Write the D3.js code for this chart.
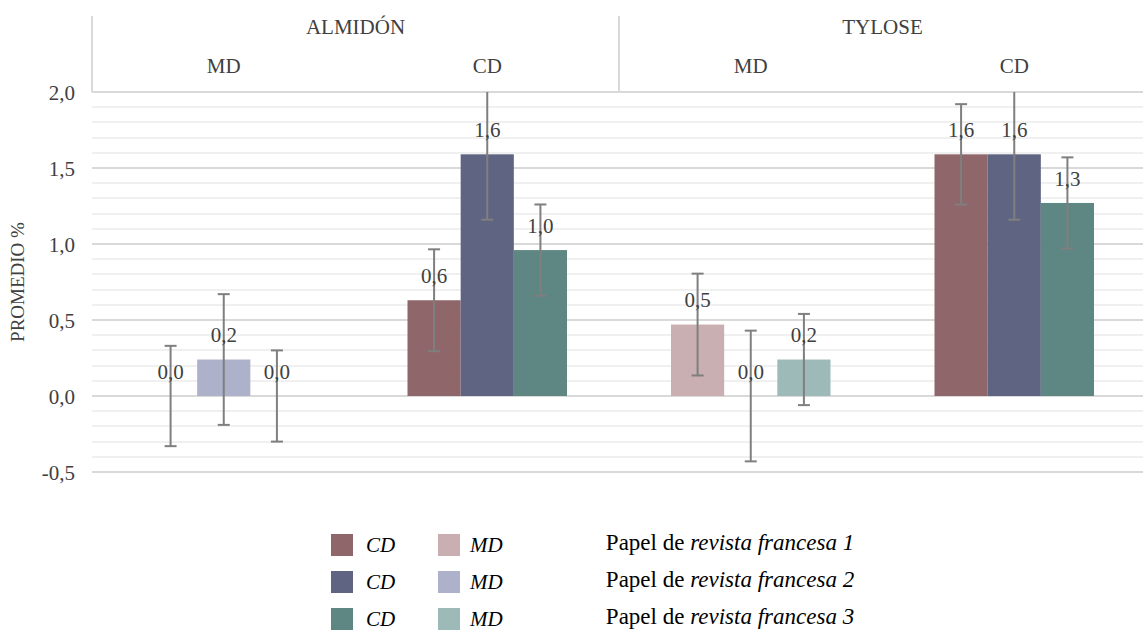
<!DOCTYPE html>
<html>
<head>
<meta charset="utf-8">
<title>Promedio %</title>
<script src="https://cdn.jsdelivr.net/npm/d3@7"></script>
<style>
  body { margin: 0; background: #fff; }
  svg, svg text, svg tspan { font-family: "Liberation Serif", "Times New Roman", serif !important; }
</style>
</head>
<body>
<div id="chart"></div>
<script>
// data
var materials = ["ALMIDÓN", "TYLOSE"];
var treatments = ["MD", "CD"];
var series = ["Papel de revista francesa 1", "Papel de revista francesa 2", "Papel de revista francesa 3"];
// values per group (ALMIDÓN MD, ALMIDÓN CD, TYLOSE MD, TYLOSE CD), one entry per series
var means = [
  [0.00, 0.24, 0.00],
  [0.63, 1.59, 0.96],
  [0.47, 0.00, 0.24],
  [1.59, 1.59, 1.27]
];
var errs = [
  [0.33, 0.43, 0.30],
  [0.335, 0.43, 0.30],
  [0.335, 0.43, 0.30],
  [0.33, 0.43, 0.30]
];
var yTicks = [-0.5, 0, 0.5, 1.0, 1.5, 2.0];

var colorsCD = ["#8f666a", "#606483", "#5e8682"];
var colorsMD = ["#c9afb1", "#adb1ca", "#9dbab8"];

var width = 1143, height = 632;
var pLeft = 92, pRight = 1146, pTop = 92, pBottom = 472;
var fs = 21;
var serifFont = "Liberation Serif";

var svg = d3.select("#chart").append("svg")
    .attr("width", width)
    .attr("height", height)
    .attr("font-family", serifFont);

var groups = [];
materials.forEach(function(m) {
  treatments.forEach(function(t) { groups.push({ mat: m, tr: t }); });
});

var x0 = d3.scaleBand().domain(d3.range(groups.length)).range([pLeft, pRight]);
var x1 = d3.scaleBand().domain(d3.range(series.length))
    .range([52, x0.bandwidth() - 52]);
var y = d3.scaleLinear().domain([-0.5, 2.0]).range([pBottom, pTop]);

var fmt = function(v) { return d3.format(".1f")(v).replace(".", ",").replace("\u2212", "-"); };

// gridlines (minor every 0.1)
var minor = d3.range(-5, 21).map(function(d) { return d / 10; });
svg.append("g").selectAll("line").data(minor).join("line")
    .attr("x1", pLeft).attr("x2", width)
    .attr("y1", function(d) { return Math.round(y(d)); })
    .attr("y2", function(d) { return Math.round(y(d)); })
    .attr("stroke", function(d) { return Math.abs(d * 2 - Math.round(d * 2)) < 1e-6 ? "#d9d9d9" : "#f0f0f0"; })
    .attr("stroke-width", 2);

// header
var hdr = svg.append("g");
[pLeft, x0(2)].forEach(function(xx) {
  hdr.append("line")
      .attr("x1", xx).attr("x2", xx)
      .attr("y1", 16).attr("y2", pTop)
      .attr("stroke", "#d9d9d9").attr("stroke-width", 2);
});
materials.forEach(function(m, i) {
  hdr.append("text")
      .attr("x", x0(i * 2) + x0.bandwidth())
      .attr("y", 29)
      .attr("text-anchor", "middle")
      .attr("dominant-baseline", "middle")
      .attr("font-size", fs)
      .attr("fill", "#404040")
      .text(m);
});
groups.forEach(function(g, i) {
  hdr.append("text")
      .attr("x", x0(i) + x0.bandwidth() / 2)
      .attr("y", 68)
      .attr("text-anchor", "middle")
      .attr("dominant-baseline", "middle")
      .attr("font-size", fs)
      .attr("fill", "#404040")
      .text(g.tr);
});

// y axis
var yAxis = d3.axisLeft(y).tickValues(yTicks).tickSize(0).tickPadding(0).tickFormat(fmt);
var ax = svg.append("g").attr("transform", "translate(75,0)").call(yAxis);
ax.attr("font-family", serifFont);
ax.select(".domain").remove();
ax.selectAll("text")
    .attr("font-size", fs)
    .attr("fill", "#404040")
    .attr("dy", "0.35em");

svg.append("text")
    .attr("transform", "translate(20," + ((pTop + pBottom) / 2) + ") rotate(-90)")
    .attr("text-anchor", "middle")
    .attr("dominant-baseline", "middle")
    .attr("font-size", 19)
    .attr("fill", "#404040")
    .text("PROMEDIO %");

// bars
svg.append("defs").append("clipPath").attr("id", "plotclip")
  .append("rect").attr("x", pLeft).attr("y", pTop).attr("width", width - pLeft).attr("height", pBottom - pTop + 20);

var plot = svg.append("g").attr("clip-path", "url(#plotclip)");
var labels = svg.append("g");

groups.forEach(function(g, gi) {
  var cols = g.tr === "CD" ? colorsCD : colorsMD;
  series.forEach(function(s, si) {
    var v = means[gi][si], e = errs[gi][si];
    var bx = x0(gi) + x1(si);
    var cx = bx + x1.bandwidth() / 2;
    plot.append("rect")
        .attr("x", bx)
        .attr("y", y(Math.max(0, v)))
        .attr("width", x1.bandwidth())
        .attr("height", Math.abs(y(v) - y(0)))
        .attr("fill", cols[si]);
    // error bar
    plot.append("line")
        .attr("x1", cx).attr("x2", cx)
        .attr("y1", y(v + e)).attr("y2", y(v - e))
        .attr("stroke", "#7f7f7f").attr("stroke-width", 2);
    [v + e, v - e].forEach(function(ev) {
      plot.append("line")
          .attr("x1", cx - 6).attr("x2", cx + 6)
          .attr("y1", y(ev)).attr("y2", y(ev))
          .attr("stroke", "#7f7f7f").attr("stroke-width", 2);
    });
    labels.append("text")
        .attr("x", cx)
        .attr("y", y(v) - 22)
        .attr("text-anchor", "middle")
        .attr("dominant-baseline", "middle")
        .attr("font-size", fs)
        .attr("fill", "#404040")
        .text(fmt(v));
  });
});

// legend
var legend = svg.append("g");
var rowY = [545, 582, 619];
series.forEach(function(s, i) {
  var cy = rowY[i];
  legend.append("rect").attr("x", 331).attr("y", cy - 11).attr("width", 22).attr("height", 22).attr("fill", colorsCD[i]);
  legend.append("text").attr("x", 366).attr("y", cy + 2)
      .attr("dominant-baseline", "middle").attr("font-size", 21)
      .attr("font-style", "italic").attr("fill", "#000").text("CD");
  legend.append("rect").attr("x", 438).attr("y", cy - 11).attr("width", 22).attr("height", 22).attr("fill", colorsMD[i]);
  legend.append("text").attr("x", 470).attr("y", cy + 2)
      .attr("dominant-baseline", "middle").attr("font-size", 21)
      .attr("font-style", "italic").attr("fill", "#000").text("MD");
  var parts = s.split("Papel de ");
  var t = legend.append("text").attr("x", 730).attr("y", cy)
      .attr("text-anchor", "middle")
      .attr("dominant-baseline", "middle").attr("font-size", 23)
      .attr("fill", "#000");
  t.append("tspan").text("Papel de ");
  t.append("tspan").attr("font-style", "italic").text(parts[1]);
});

svg.selectAll("text, tspan").style("font-family", serifFont, "important");
</script>
</body>
</html>
